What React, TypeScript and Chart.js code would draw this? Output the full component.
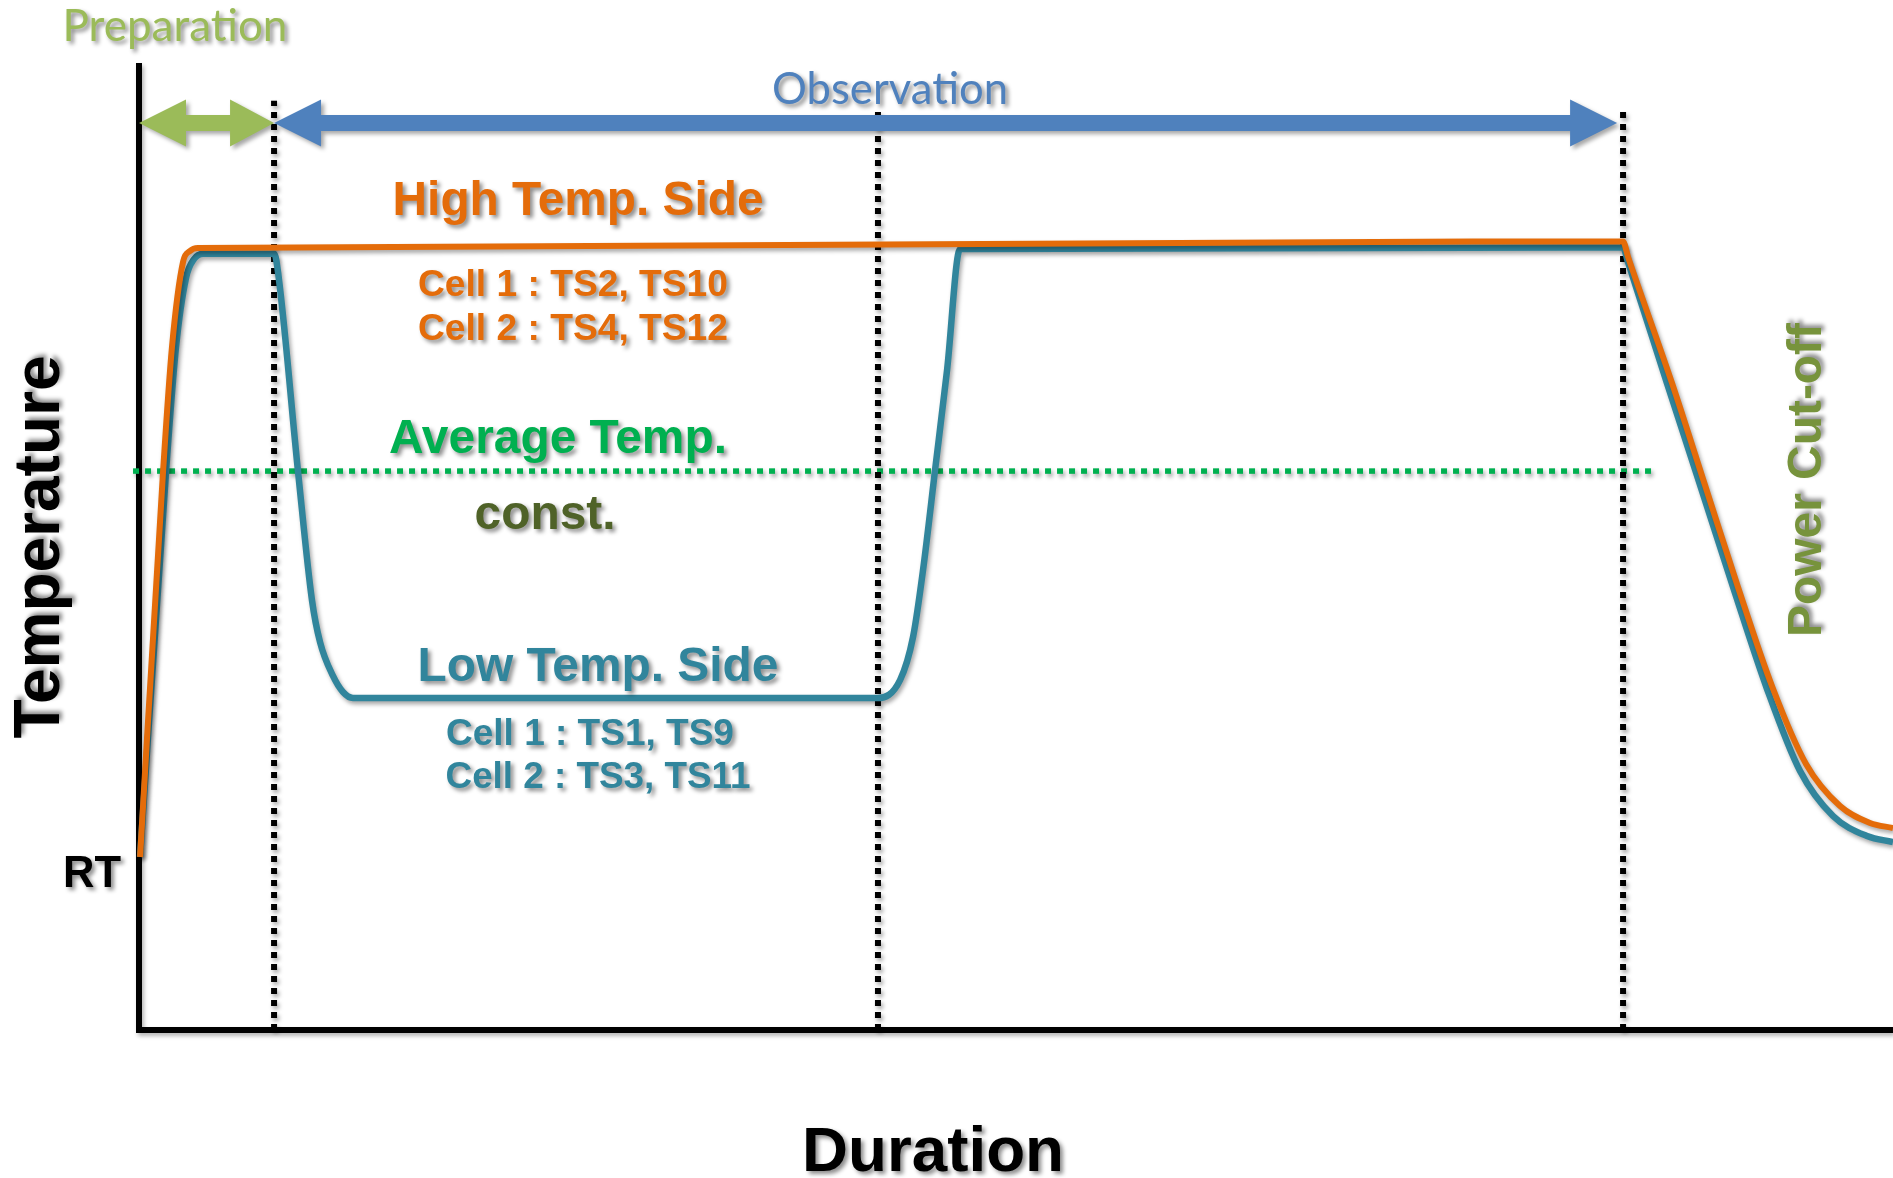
import React, { useEffect, useRef } from 'react';
import { Chart, registerables } from 'chart.js';

Chart.register(...registerables);

// Duration (arbitrary units, 0–100) / Temperature (arbitrary units, 0–100, RT ≈ 18)
const highSideDuration = [0.06, 1.37, 1.88, 2.51, 2.91, 3.36, 84.61, 84.89, 87.4, 89.28, 91.16, 93.1, 95.04, 96.98, 98.69, 100];
const highSideTemp = [17.89, 57.7, 70.63, 79.42, 80.56, 80.87, 81.54, 79.98, 66.91, 56.36, 45.81, 35.57, 27.51, 23.16, 21.41, 20.89];

const lowSideDuration = [0.06, 1.54, 2.11, 2.68, 3.14, 3.65, 7.7, 7.87, 9.07, 9.86, 10.32, 11.06, 11.63, 12.2, 42.13, 43.39, 44.13, 44.7, 45.38, 46.07, 46.81, 84.61, 84.89, 87.11, 89.0, 90.88, 92.82, 94.7, 96.58, 98.52, 100];
const lowSideTemp = [17.89, 57.7, 70.63, 77.77, 79.73, 80.28, 80.28, 79.11, 57.7, 44.47, 40.12, 36.61, 34.95, 34.33, 34.33, 36.19, 40.64, 47.57, 57.81, 68.25, 80.77, 80.92, 79.42, 66.91, 56.36, 45.81, 35.26, 26.78, 22.13, 20.06, 19.44];

const averageDuration = [-0.34, 86.37];
const averageTemp = [57.8, 57.8];

// phase boundaries (start of observation, mid, power cut-off) and their top ends
const phaseBoundaries = [7.7, 42.13, 84.61];
const phaseBoundaryTops = [96.1, 95.0, 95.0];

// phase arrows: [start, end] on the duration axis, arrow level on temperature axis
const preparationSpan = [0, 7.7];
const observationSpan = [7.7, 84.27];
const phaseArrowLevel = 93.8;

const COLORS = {
  high: '#E46C0A',
  low: '#31859C',
  avg: '#00B050',
  prep: '#9BBB59',
  obs: '#4F81BD',
  cons: '#4F6228',
  power: '#77933C',
};

type Label = {
  text: string;
  x: number;
  y: number;
  width: number;
  color: string;
  family: string;
  weight: string;
  rotate?: boolean;
};

const labels: Label[] = [
  { text: 'Preparation', x: 2.05, y: 102.3, width: 225, color: COLORS.prep, family: 'Lato', weight: 'normal' },
  { text: 'Observation', x: 42.82, y: 95.76, width: 236, color: COLORS.obs, family: 'Lato', weight: 'normal' },
  { text: 'High Temp. Side', x: 25.03, y: 84.28, width: 371, color: COLORS.high, family: '"Liberation Sans"', weight: 'bold' },
  { text: 'Cell 1 : TS2, TS10', x: 24.74, y: 75.9, width: 310, color: COLORS.high, family: '"Liberation Sans"', weight: 'bold' },
  { text: 'Cell 2 : TS4, TS12', x: 24.74, y: 71.35, width: 310, color: COLORS.high, family: '"Liberation Sans"', weight: 'bold' },
  { text: 'Average Temp.', x: 23.89, y: 59.67, width: 338, color: COLORS.avg, family: '"Liberation Sans"', weight: 'bold' },
  { text: 'const.', x: 23.15, y: 51.81, width: 141, color: COLORS.cons, family: '"Liberation Sans"', weight: 'bold' },
  { text: 'Low Temp. Side', x: 26.17, y: 36.09, width: 361, color: COLORS.low, family: '"Liberation Sans"', weight: 'bold' },
  { text: 'Cell 1 : TS1, TS9', x: 25.71, y: 29.47, width: 288, color: COLORS.low, family: '"Liberation Sans"', weight: 'bold' },
  { text: 'Cell 2 : TS3, TS11', x: 26.17, y: 25.03, width: 305, color: COLORS.low, family: '"Liberation Sans"', weight: 'bold' },
  { text: 'RT', x: -2.68, y: 14.79, width: 58, color: '#000000', family: '"Liberation Sans"', weight: 'bold' },
  { text: 'Duration', x: 45.27, y: -14.58, width: 262, color: '#000000', family: '"Liberation Sans"', weight: 'bold' },
  { text: 'Temperature', x: -4.56, y: 49.95, width: 383, color: '#000000', family: '"Liberation Sans"', weight: 'bold', rotate: true },
  { text: 'Power Cut-off', x: 95.9, y: 56.88, width: 314, color: COLORS.power, family: '"Liberation Sans"', weight: 'bold', rotate: true },
];

function zip(xs: number[], ys: number[]) {
  return xs.map((x, i) => ({ x, y: ys[i] }));
}

function setShadow(ctx: CanvasRenderingContext2D, alpha = 0.35, blur = 4, dx = 2, dy = 3) {
  ctx.shadowColor = `rgba(0,0,0,${alpha})`;
  ctx.shadowBlur = blur;
  ctx.shadowOffsetX = dx;
  ctx.shadowOffsetY = dy;
}

function drawArrow(
  ctx: CanvasRenderingContext2D,
  x1: number,
  x2: number,
  y: number,
  color: string,
  leftHead: number,
  rightHead: number,
  headH: number,
  shaft: number
) {
  ctx.beginPath();
  ctx.moveTo(x1, y);
  ctx.lineTo(x1 + leftHead, y - headH / 2);
  ctx.lineTo(x1 + leftHead, y - shaft / 2);
  ctx.lineTo(x2 - rightHead, y - shaft / 2);
  ctx.lineTo(x2 - rightHead, y - headH / 2);
  ctx.lineTo(x2, y);
  ctx.lineTo(x2 - rightHead, y + headH / 2);
  ctx.lineTo(x2 - rightHead, y + shaft / 2);
  ctx.lineTo(x1 + leftHead, y + shaft / 2);
  ctx.lineTo(x1 + leftHead, y + headH / 2);
  ctx.closePath();
  ctx.fillStyle = color;
  ctx.fill();
}

const overlayPlugin = {
  id: 'overlay',
  beforeDatasetsDraw(chart: any) {
    const { ctx, scales } = chart;
    const xs = scales.x;
    const ys = scales.y;
    const x0 = xs.getPixelForValue(0);
    const xEnd = xs.getPixelForValue(100);
    const y0 = ys.getPixelForValue(0);
    const yTop = ys.getPixelForValue(100);
    ctx.save();
    setShadow(ctx, 0.3, 4, 2, 3);
    ctx.strokeStyle = '#000';
    ctx.lineWidth = 6;
    ctx.lineCap = 'butt';
    ctx.lineJoin = 'miter';
    ctx.beginPath();
    ctx.moveTo(x0, yTop);
    ctx.lineTo(x0, y0);
    ctx.lineTo(xEnd, y0);
    ctx.stroke();
    ctx.restore();
  },
  beforeDatasetDraw(chart: any) {
    chart.ctx.save();
    setShadow(chart.ctx, 0.35, 4, 2, 3);
  },
  afterDatasetDraw(chart: any) {
    chart.ctx.restore();
  },
  afterDatasetsDraw(chart: any) {
    const { ctx, scales } = chart;
    const xs = scales.x;
    const ys = scales.y;
    const ay = ys.getPixelForValue(phaseArrowLevel);

    ctx.save();
    setShadow(ctx, 0.35, 4, 3, 3);
    drawArrow(ctx, xs.getPixelForValue(preparationSpan[0]), xs.getPixelForValue(preparationSpan[1]), ay, COLORS.prep, 47, 44, 47, 16);
    drawArrow(ctx, xs.getPixelForValue(observationSpan[0]), xs.getPixelForValue(observationSpan[1]), ay, COLORS.obs, 47, 47, 47, 16);
    ctx.restore();

    for (const l of labels) {
      ctx.save();
      ctx.font = `${l.weight} 100px ${l.family}`;
      const w = ctx.measureText(l.text).width;
      const size = (100 * l.width) / w;
      ctx.font = `${l.weight} ${size.toFixed(2)}px ${l.family}`;
      ctx.fillStyle = l.color;
      ctx.textAlign = 'center';
      ctx.textBaseline = 'alphabetic';
      const px = xs.getPixelForValue(l.x);
      const py = ys.getPixelForValue(l.y);
      if (l.rotate) {
        ctx.translate(px, py);
        ctx.rotate(-Math.PI / 2);
        setShadow(ctx, 0.45, 4, 3, -3);
        ctx.fillText(l.text, 0, 0);
      } else {
        setShadow(ctx, 0.45, 4, 3, 3);
        ctx.fillText(l.text, px, py);
      }
      ctx.restore();
    }
  },
};

export default function App() {
  const canvasRef = useRef<HTMLCanvasElement | null>(null);

  useEffect(() => {
    if (!canvasRef.current) return;
    const dotted = phaseBoundaries.map((b, i) => ({
      data: [
        { x: b, y: 0 },
        { x: b, y: phaseBoundaryTops[i] },
      ],
      borderColor: '#000000',
      borderWidth: 6,
      borderDash: [6, 6],
      borderCapStyle: 'butt' as const,
      pointRadius: 0,
      tension: 0,
      order: 2,
      clip: false as any,
    }));

    const chart = new Chart(canvasRef.current, {
      type: 'line',
      data: {
        datasets: [
          {
            label: 'High Temp. Side',
            data: zip(highSideDuration, highSideTemp),
            borderColor: COLORS.high,
            borderWidth: 6,
            pointRadius: 0,
            cubicInterpolationMode: 'monotone',
            order: 0,
            clip: false as any,
          },
          {
            label: 'Low Temp. Side',
            data: zip(lowSideDuration, lowSideTemp),
            borderColor: COLORS.low,
            borderWidth: 6.5,
            pointRadius: 0,
            cubicInterpolationMode: 'monotone',
            order: 1,
            clip: false as any,
          },
          {
            label: 'Average Temp.',
            data: zip(averageDuration, averageTemp),
            borderColor: COLORS.avg,
            borderWidth: 5.5,
            borderDash: [6, 6],
            borderCapStyle: 'butt',
            pointRadius: 0,
            tension: 0,
            order: 3,
            clip: false as any,
          },
          ...dotted,
        ] as any,
      },
      options: {
        animation: false,
        responsive: false,
        devicePixelRatio: 1,
        layout: { padding: { left: 139, right: 0, top: 63, bottom: 148 } },
        plugins: { legend: { display: false }, tooltip: { enabled: false } },
        scales: {
          x: { type: 'linear', min: 0, max: 100, display: false },
          y: { type: 'linear', min: 0, max: 100, display: false },
        },
      },
      plugins: [overlayPlugin],
    });
    return () => chart.destroy();
  }, []);

  return (
    <canvas
      ref={canvasRef}
      width={1893}
      height={1178}
      style={{ position: 'absolute', left: 0, top: 0, width: 1893, height: 1178, background: '#fff' }}
    />
  );
}
